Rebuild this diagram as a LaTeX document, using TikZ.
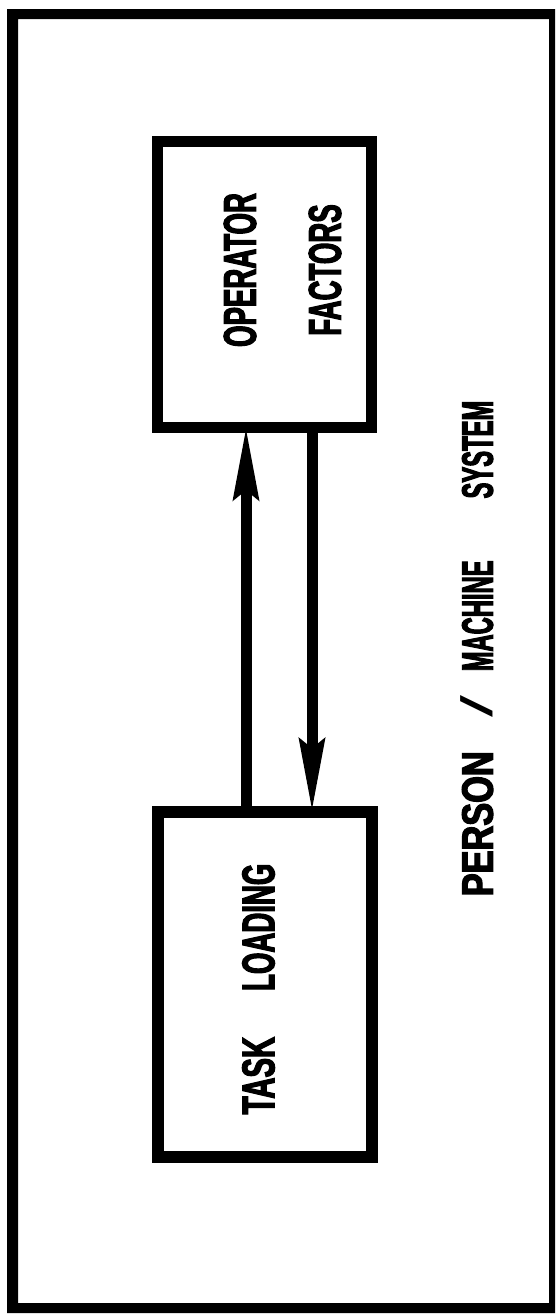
\documentclass[tikz,border=0pt]{standalone}
\usepackage{fontspec}
\usepackage{graphicx}
\newfontfamily\condfont[FakeStretch=0.6,FakeBold=2.4]{Liberation Sans}
\newfontfamily\slashfont{Liberation Sans}
\usetikzlibrary{arrows.meta}

\begin{document}
\begin{tikzpicture}[x=1pt,y=-1pt,
  blockbox/.style={draw=black,line width=11pt,minimum width=214pt,inner sep=0pt,outer sep=0pt},
  blocktext/.style={rotate=90,align=center,inner sep=0pt,
    font=\condfont\bfseries\fontsize{46}{85}\selectfont},
  flowline/.style={line width=11pt,-{Stealth[length=72pt,width=25pt,inset=9pt]}}]
  \useasboundingbox (0,0) rectangle (556,1315);

  % outer frame, heavier on the left, top and bottom
  \fill[black,even odd rule] (7,9) rectangle (555,1313) (18,19) rectangle (549,1303);

  % the two blocks
  \node[blockbox,minimum height=286pt] (op) at (264,284) {};
  \node[blockbox,minimum height=345pt,line width=12pt] (tl) at (264.5,984) {};

  \node[blocktext] (optext) at (282.5,270) {OPERATOR\\FACTORS};
  \node[blocktext] (tltext) at (258.5,989) {\scalebox{1.06}[1]{TASK}\hspace{46pt}LOADING};

  % feedback arrows between the blocks
  \coordinate (upx) at (246,0);
  \coordinate (downx) at (312,0);
  \draw[flowline] (tl.north -| upx) -- (op.south -| upx);
  \draw[flowline] (op.south -| downx) -- (tl.north -| downx);

  % system caption
  \node[rotate=90,inner sep=0pt,font=\condfont\bfseries\fontsize{44}{50}\selectfont]
    (caption) at (477,648.5)
    {\scalebox{1.3}[1]{PERSON}\hspace{34pt}\scalebox{1.8}[1]{\slashfont\mdseries /}\hspace{24pt}\scalebox{0.9}[1]{MACHINE}\hspace{62pt}\scalebox{0.9}[1]{SYSTEM}};
\end{tikzpicture}
\end{document}
